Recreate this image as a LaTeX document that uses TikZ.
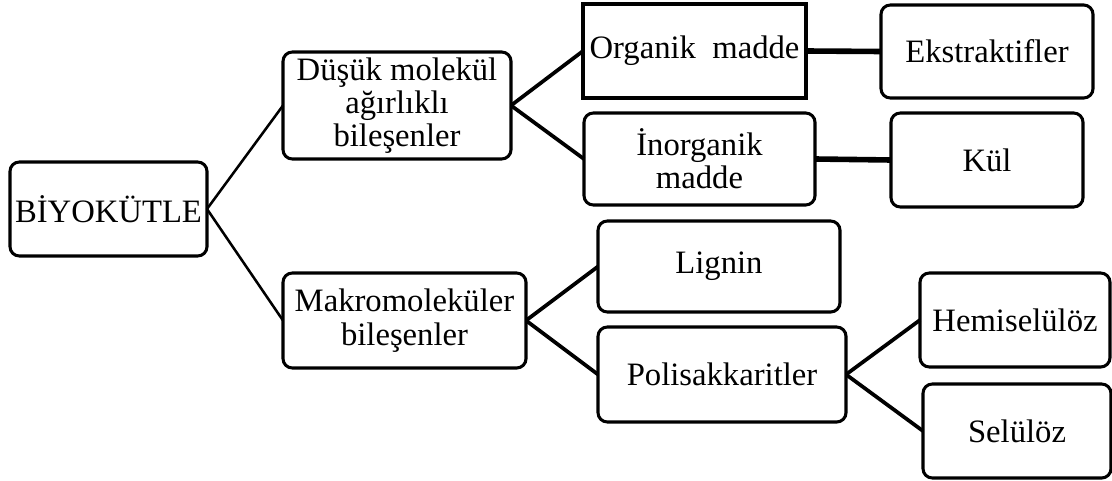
\documentclass[tikz,border=0pt]{standalone}
\usepackage{fontspec}
\setmainfont{Liberation Serif}
\begin{document}
\begin{tikzpicture}[x=0.75pt,y=-0.75pt,
  box/.style={draw=black, line width=2.3pt, rounded corners=7pt, inner sep=0pt, outer sep=0pt,
    align=center, font=\fontsize{24.5}{25}\selectfont},
  sqbox/.style={box, rounded corners=0pt},
  thin link/.style={line width=1.9pt},
  thick link/.style={line width=2.8pt},
  heavy link/.style={line width=4.2pt}]
\useasboundingbox (0,0) rectangle (1112,481);
\node[box, minimum width={197*0.75pt}, minimum height={94*0.75pt}] (biyo) at (108.5,209) {BİYOKÜTLE};
\node[box, minimum width={228*0.75pt}, minimum height={107*0.75pt}] (dusuk) at (397,105.5) {Düşük molekül\\ağırlıklı\\bileşenler};
\node[box, minimum width={243*0.75pt}, minimum height={95*0.75pt}] (makro) at (404.5,320.5) {Makromoleküler\\bileşenler};
\node[sqbox, minimum width={223*0.75pt}, minimum height={94*0.75pt}] (organik) at (694.5,51) {Organik\ \ madde};
\node[box, minimum width={212*0.75pt}, minimum height={93*0.75pt}] (ekst) at (987,51.5) {Ekstraktifler};
\node[box, minimum width={231*0.75pt}, minimum height={92*0.75pt}] (inorg) at (699.5,159) {İnorganik\\madde};
\node[box, minimum width={192*0.75pt}, minimum height={94*0.75pt}] (kul) at (987,160) {Kül};
\node[box, minimum width={242*0.75pt}, minimum height={91*0.75pt}] (lignin) at (719,266.5) {Lignin};
\node[box, minimum width={248*0.75pt}, minimum height={95*0.75pt}] (polisak) at (722,374.5) {Polisakkaritler};
\node[box, minimum width={190*0.75pt}, minimum height={94*0.75pt}] (hemi) at (1015,320) {Hemiselülöz};
\node[box, minimum width={188*0.75pt}, minimum height={94*0.75pt}] (selu) at (1017,431) {Selülöz};
\draw[thin link] (biyo.east) -- (dusuk.west);
\draw[thin link] (biyo.east) -- (makro.west);
\draw[thick link] (dusuk.east) -- (organik.west);
\draw[thick link] (dusuk.east) -- (inorg.west);
\draw[heavy link] (organik.east) -- (ekst.west);
\draw[heavy link] (inorg.east) -- (kul.west);
\draw[thick link] (makro.east) -- (lignin.west);
\draw[thick link] (makro.east) -- (polisak.west);
\draw[thick link] (polisak.east) -- (hemi.west);
\draw[thick link] (polisak.east) -- (selu.west);
\end{tikzpicture}
\end{document}
